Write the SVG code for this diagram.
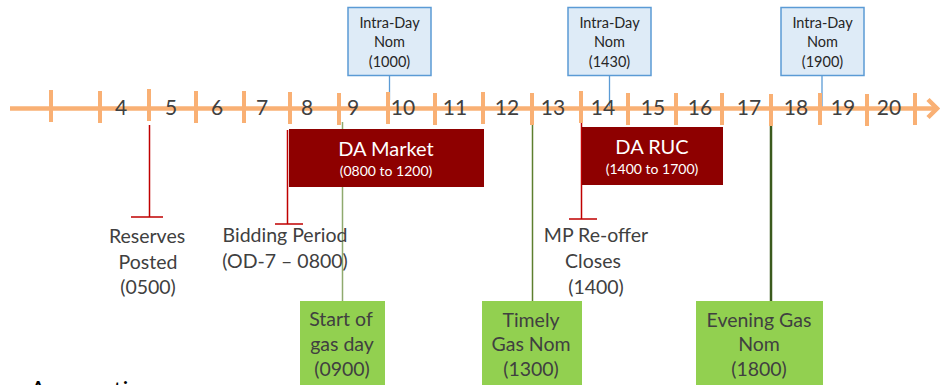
<svg xmlns="http://www.w3.org/2000/svg" width="940" height="385" viewBox="0 0 940 385">
<style>
text{font-family:Lato,"Open Sans","Liberation Sans",sans-serif;text-anchor:middle}
.axis{stroke:#F9B074;stroke-width:4.5;fill:none}
.tick{stroke:#F9B074;stroke-width:4}
.num{font-size:21px;fill:#404040}
.idbox{fill:#DEEBF7;stroke:#5B9BD5;stroke-width:1.5}
.idtxt{font-size:14.5px;fill:#262626}
.idline{stroke:#5B9BD5;stroke-width:1.3}
.redbox{fill:#8E0000}
.big{font-size:20px;fill:#ffffff}
.small{font-size:14px;fill:#ffffff}
.rl{stroke:#C00000;stroke-width:1.5;fill:none}
.lbl{font-size:19.5px;fill:#404040}
.gbox{fill:#92D050}
.gtxt{font-size:19.5px;fill:#404040}
</style>
<rect width="940" height="385" fill="#ffffff"/>

<g id="connectors">
  <line class="idline" x1="389.5" y1="76" x2="389.5" y2="100"/>
  <line class="idline" x1="609.5" y1="76" x2="609.5" y2="107"/>
  <line class="idline" x1="822" y1="75" x2="822" y2="107"/>
  <line x1="342.5" y1="122" x2="342.5" y2="301" stroke="#8FAA6E" stroke-width="1.5"/>
  <line x1="532.5" y1="125" x2="532.5" y2="301" stroke="#5D7F2F" stroke-width="1.5"/>
  <line x1="771" y1="124" x2="771" y2="301" stroke="#3B5A1D" stroke-width="2.5"/>
  <path class="rl" d="M149.5 125 V217 M131 217 H163"/>
  <path class="rl" d="M287.5 130 V224 M275 224 H303"/>
  <path class="rl" d="M581.5 116 V219 M569 219 H597"/>
</g>

<g id="axis">
  <line class="axis" x1="10" y1="108.5" x2="935" y2="108.5"/>
  <path class="axis" d="M928 99.5 L937 108.5 L928 117.5"/>
  <line class="tick" x1="51" y1="90" x2="51" y2="122"/>
  <line class="tick" x1="100" y1="91" x2="100" y2="123"/>
  <line class="tick" x1="149" y1="89" x2="149" y2="121"/>
  <line class="tick" x1="196" y1="91" x2="196" y2="123"/>
  <line class="tick" x1="244" y1="91" x2="244" y2="123"/>
  <line class="tick" x1="290" y1="92" x2="290" y2="124"/>
  <line class="tick" x1="339" y1="93" x2="339" y2="125"/>
  <line class="tick" x1="388" y1="92" x2="388" y2="124"/>
  <line class="tick" x1="435" y1="93" x2="435" y2="125"/>
  <line class="tick" x1="483" y1="92" x2="483" y2="124"/>
  <line class="tick" x1="532" y1="93" x2="532" y2="125"/>
  <line class="tick" x1="581" y1="91" x2="581" y2="123"/>
  <line class="tick" x1="628" y1="93" x2="628" y2="125"/>
  <line class="tick" x1="676" y1="93" x2="676" y2="125"/>
  <line class="tick" x1="722" y1="93" x2="722" y2="125"/>
  <line class="tick" x1="771" y1="94" x2="771" y2="126"/>
  <line class="tick" x1="820" y1="93" x2="820" y2="125"/>
  <line class="tick" x1="867" y1="94" x2="867" y2="126"/>
  <line class="tick" x1="915" y1="93" x2="915" y2="125"/>
  <text class="num" x="121" y="114.5">4</text>
  <text class="num" x="171" y="114.5">5</text>
  <text class="num" x="217" y="114.5">6</text>
  <text class="num" x="262" y="114.5">7</text>
  <text class="num" x="307" y="114.5">8</text>
  <text class="num" x="353" y="114.5">9</text>
  <text class="num" x="403" y="114.5">10</text>
  <text class="num" x="455" y="114.5">11</text>
  <text class="num" x="507" y="114.5">12</text>
  <text class="num" x="553" y="114.5">13</text>
  <text class="num" x="603" y="114.5">14</text>
  <text class="num" x="653" y="114.5">15</text>
  <text class="num" x="700" y="114.5">16</text>
  <text class="num" x="749" y="114.5">17</text>
  <text class="num" x="796" y="114.5">18</text>
  <text class="num" x="843" y="114.5">19</text>
  <text class="num" x="889" y="114.5">20</text>
</g>

<g id="intraday-1000">
  <rect class="idbox" x="348" y="7.5" width="83" height="68"/>
  <text class="idtxt" x="389.5" y="28">Intra-Day</text>
  <text class="idtxt" x="389.5" y="47">Nom</text>
  <text class="idtxt" x="389.5" y="66.5">(1000)</text>
</g>
<g id="intraday-1430">
  <rect class="idbox" x="568" y="7.5" width="83" height="68"/>
  <text class="idtxt" x="609.5" y="28">Intra-Day</text>
  <text class="idtxt" x="609.5" y="47">Nom</text>
  <text class="idtxt" x="609.5" y="66.5">(1430)</text>
</g>
<g id="intraday-1900">
  <rect class="idbox" x="781" y="7.5" width="83" height="68"/>
  <text class="idtxt" x="822.5" y="28">Intra-Day</text>
  <text class="idtxt" x="822.5" y="47">Nom</text>
  <text class="idtxt" x="822.5" y="66.5">(1900)</text>
</g>

<g id="da-market">
  <rect class="redbox" x="289" y="129" width="195" height="58"/>
  <text class="big" x="386" y="156">DA Market</text>
  <text class="small" x="386" y="176">(0800 to 1200)</text>
</g>
<g id="da-ruc">
  <rect class="redbox" x="582" y="127" width="141" height="58"/>
  <text class="big" x="652" y="154">DA RUC</text>
  <text class="small" x="652" y="174">(1400 to 1700)</text>
</g>

<g id="reserves-posted">
  <text class="lbl" x="147" y="243">Reserves</text>
  <text class="lbl" x="148" y="269">Posted</text>
  <text class="lbl" x="148" y="294">(0500)</text>
</g>
<g id="bidding-period">
  <text class="lbl" x="285" y="242">Bidding Period</text>
  <text class="lbl" x="285" y="268">(OD-7 – 0800)</text>
</g>
<g id="mp-reoffer">
  <text class="lbl" x="596" y="242">MP Re-offer</text>
  <text class="lbl" x="593" y="268">Closes</text>
  <text class="lbl" x="596" y="294">(1400)</text>
</g>

<g id="start-gas-day">
  <rect class="gbox" x="300" y="301" width="85" height="100"/>
  <text class="gtxt" x="341" y="325.5">Start of</text>
  <text class="gtxt" x="342" y="351">gas day</text>
  <text class="gtxt" x="342" y="376">(0900)</text>
</g>
<g id="timely-gas-nom">
  <rect class="gbox" x="482" y="301" width="100" height="100"/>
  <text class="gtxt" x="531" y="327">Timely</text>
  <text class="gtxt" x="531" y="351">Gas Nom</text>
  <text class="gtxt" x="531" y="376">(1300)</text>
</g>
<g id="evening-gas-nom">
  <rect class="gbox" x="696" y="301" width="127" height="100"/>
  <text class="gtxt" x="759" y="327">Evening Gas</text>
  <text class="gtxt" x="759" y="351">Nom</text>
  <text class="gtxt" x="759" y="376">(1800)</text>
</g>

<text x="30" y="398" style="text-anchor:start;font-size:24px;fill:#000000">Assumptions</text>
</svg>
